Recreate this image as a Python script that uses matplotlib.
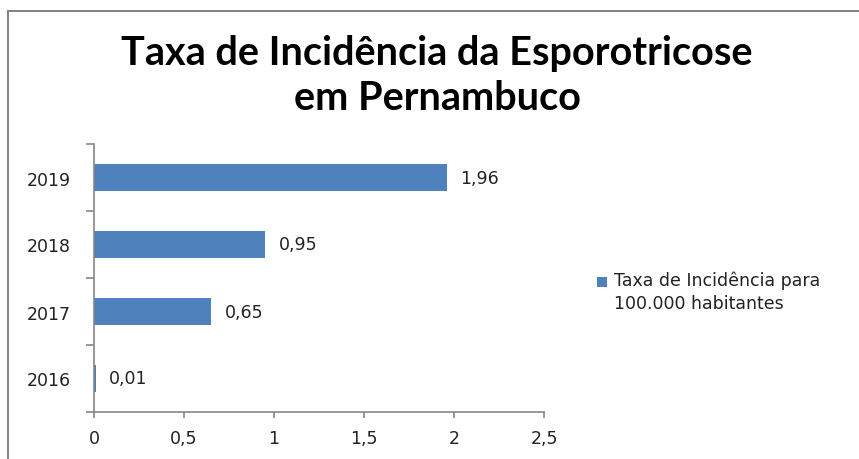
import matplotlib.pyplot as plt
from matplotlib.patches import Rectangle

years = ["2016", "2017", "2018", "2019"]
rates = [0.01, 0.65, 0.95, 1.96]
labels = ["0,01", "0,65", "0,95", "1,96"]
xticks = [0, 0.5, 1, 1.5, 2, 2.5]
xticklabels = ["0", "0,5", "1", "1,5", "2", "2,5"]
series_name = "Taxa de Incidência para\n100.000 habitantes"

fig = plt.figure(figsize=(8.59, 4.60), dpi=100)

# outer chart border (cut off at right and bottom)
fig.patches.append(Rectangle((8 / 859, -0.05), 1.1, 1 - 11.5 / 460 + 0.05,
                             transform=fig.transFigure, fill=False,
                             edgecolor="#808080", linewidth=1.4))

ax = fig.add_axes([94 / 859, 1 - 413 / 460, 450 / 859, 268 / 460])

ypos = list(range(len(years)))
ax.barh(ypos, rates, height=0.4, color="#4F81BD", linewidth=0)

for y, v, t in zip(ypos, rates, labels):
    ax.text(v + 0.075, y, t, va="center", ha="left", fontsize=12.5,
            family="DejaVu Sans", color="#222222")

ax.set_xlim(0, 2.5)
ax.set_ylim(-0.5, 3.5)
ax.set_xticks(xticks)
ax.set_xticklabels(xticklabels, fontsize=12.5, color="#222222")
ax.set_yticks(ypos)
ax.set_yticklabels(years, fontsize=12.5, color="#222222")

# category boundary ticks on the y axis
ax.set_yticks([-0.5, 0.5, 1.5, 2.5, 3.5], minor=True)
ax.tick_params(axis="y", which="major", length=0, pad=17)
ax.tick_params(axis="y", which="minor", length=6, color="#868686", width=1.2)
ax.tick_params(axis="x", length=4.5, color="#868686", width=1.2, pad=8)

for s in ["top", "right"]:
    ax.spines[s].set_visible(False)
for s in ["left", "bottom"]:
    ax.spines[s].set_color("#868686")
    ax.spines[s].set_linewidth(1.2)

fig.text(437 / 859, 1 - 53 / 460, "Taxa de Incidência da Esporotricose",
         ha="center", va="center", fontsize=28.5, fontweight="bold",
         family="Lato")
fig.text(437 / 859, 1 - 98 / 460, "em Pernambuco",
         ha="center", va="center", fontsize=28.5, fontweight="bold",
         family="Lato")

# legend drawn by hand: marker beside the first line of the label
fig.patches.append(Rectangle((597 / 859, 1 - 288 / 460), 10 / 859, 10 / 460,
                             transform=fig.transFigure, facecolor="#4F81BD",
                             edgecolor="none"))
fig.text(614 / 859, 1 - 272 / 460, series_name, ha="left", va="top",
         fontsize=12.5, linespacing=1.35, color="#222222")

fig.savefig("out.png", dpi=100)
